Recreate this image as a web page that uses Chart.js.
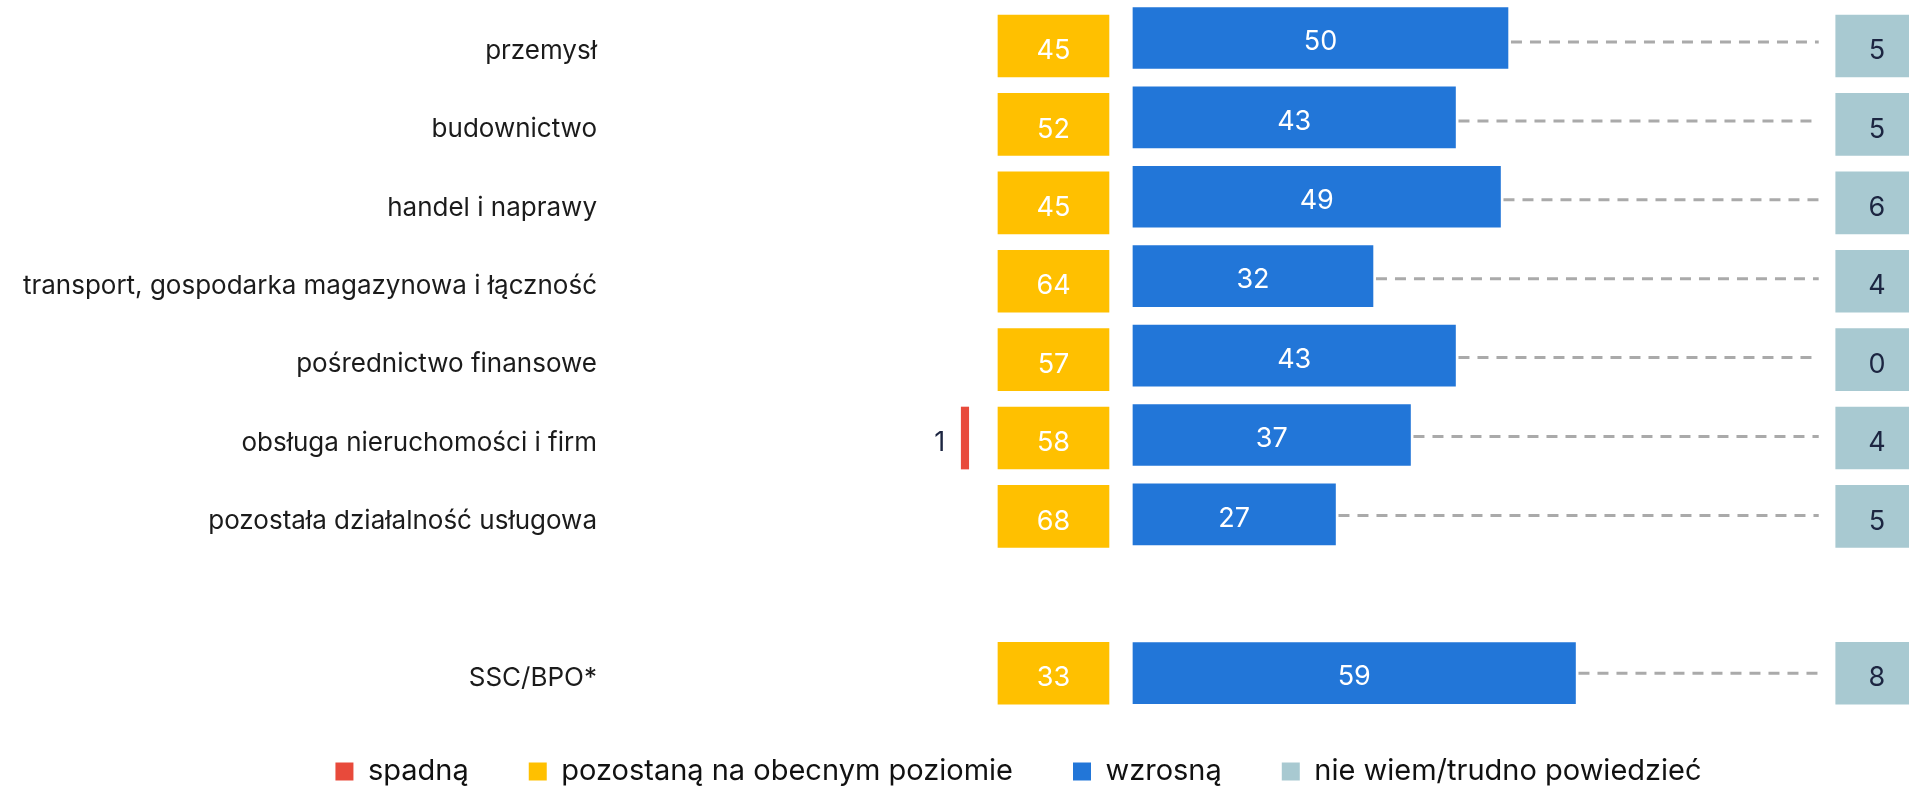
<!DOCTYPE html>
<html lang="pl">
<head>
<meta charset="utf-8">
<title>Zatrudnienie w sektorach</title>
<script src="https://cdn.jsdelivr.net/npm/chart.js@4.4.1/dist/chart.umd.min.js"></script>
<style>
    html, body { margin: 0; padding: 0; background: #fff; }
    #wrap { width: 1909px; height: 787px; }
</style>
</head>
<body>
<div id="wrap"><canvas id="chart"></canvas></div>
<script>
// Data (the empty row is the gap before SSC/BPO)
const categories = [
    'przemysł',
    'budownictwo',
    'handel i naprawy',
    'transport, gospodarka magazynowa i łączność',
    'pośrednictwo finansowe',
    'obsługa nieruchomości i firm',
    'pozostała działalność usługowa',
    '',
    'SSC/BPO*'
];
const seriesNames = ['spadną', 'pozostaną na obecnym poziomie', 'wzrosną', 'nie wiem/trudno powiedzieć'];
const fallValues = [0, 0, 0, 0, 0, 1, 0, null, 0];
const stayValues = [45, 52, 45, 64, 57, 58, 68, null, 33];
const riseValues = [50, 43, 49, 32, 43, 37, 27, null, 59];
const unsureValues = [5, 5, 6, 4, 0, 4, 5, null, 8];

// Layout (x axis units, the blue bars start at 0)
const X_MIN = -69.73, X_MAX = 103.47;
const RED_END = -21.9;
const YELLOW_FROM = -18, YELLOW_TO = -3.2;
const GREY_FROM = 93.7, GREY_TO = 104.7;

const colors = ['#e84a3b', '#ffc000', '#2276d8', '#a8c9d1'];
const fontFamily = "Inter, 'Noto Sans', sans-serif";

// one point per row that has a value; y is the row index
function toPoints(values, xOf, keep) {
    const points = [];
    values.forEach((v, i) => {
        if (v == null || (keep && !keep(v))) return;
        points.push({ y: i, x: xOf(v), value: v });
    });
    return points;
}

const datasets = [
    {
        label: seriesNames[0],
        data: toPoints(fallValues, v => [RED_END - v, RED_END], v => v > 0),
        backgroundColor: colors[0],
        clip: false
    },
    {
        label: seriesNames[1],
        data: toPoints(stayValues, () => [YELLOW_FROM, YELLOW_TO]),
        backgroundColor: colors[1],
        clip: false
    },
    {
        label: seriesNames[2],
        data: toPoints(riseValues, v => v),
        backgroundColor: colors[2],
        yAxisID: 'yb',
        barThickness: 61,
        clip: false
    },
    {
        label: seriesNames[3],
        data: toPoints(unsureValues, () => [GREY_FROM, GREY_TO]),
        backgroundColor: colors[3],
        clip: false
    }
];

// Dashed connectors from the blue bars to the grey cells
const connectors = {
    id: 'connectors',
    beforeDatasetsDraw(chart) {
        const ctx = chart.ctx;
        const blue = chart.getDatasetMeta(2).data;
        const greyByRow = {};
        chart.getDatasetMeta(3).data.forEach((bar, j) => {
            greyByRow[chart.data.datasets[3].data[j].y] = bar;
        });
        const greyStart = chart.scales.x.getPixelForValue(GREY_FROM);
        ctx.save();
        ctx.strokeStyle = '#aaaaaa';
        ctx.lineWidth = 3;
        ctx.setLineDash([11, 8]);
        blue.forEach((bar, j) => {
            const grey = greyByRow[chart.data.datasets[2].data[j].y];
            if (!grey) return;
            const y = (bar.y + grey.y) / 2;
            ctx.beginPath();
            ctx.moveTo(bar.x + 3, y);
            ctx.lineTo(greyStart - 17, y);
            ctx.stroke();
        });
        ctx.restore();
    }
};

// Value labels in and beside the bars
const valueLabels = {
    id: 'valueLabels',
    afterDatasetsDraw(chart) {
        const ctx = chart.ctx;
        ctx.save();
        ctx.font = '27px ' + fontFamily;
        ctx.textBaseline = 'middle';
        chart.data.datasets.forEach((ds, di) => {
            const meta = chart.getDatasetMeta(di);
            meta.data.forEach((bar, j) => {
                const v = ds.data[j].value;
                const left = Math.min(bar.x, bar.base);
                const right = Math.max(bar.x, bar.base);
                const dy = di === 2 ? 4 : 5;
                if (di === 0) {
                    ctx.fillStyle = '#1c2541';
                    ctx.textAlign = 'right';
                    ctx.fillText(String(v), left - 16, bar.y + dy);
                } else {
                    ctx.fillStyle = di === 3 ? '#1c2541' : '#ffffff';
                    ctx.textAlign = 'center';
                    ctx.fillText(String(v), (left + right) / 2, bar.y + dy);
                }
            });
        });
        ctx.restore();
    }
};

// the legend sits a bit right of the page centre
const legendShift = {
    id: 'legendShift',
    afterLayout(chart) {
        if (chart.legend) chart.legend.left = 128;
    }
};

Chart.defaults.font.family = fontFamily;

new Chart(document.getElementById('chart'), {
    type: 'bar',
    data: { datasets: datasets },
    options: {
        indexAxis: 'y',
        responsive: true,
        maintainAspectRatio: false,
        animation: false,
        devicePixelRatio: 1,
        layout: { padding: 0 },
        datasets: {
            bar: {
                grouped: false,
                barThickness: 62,
                borderWidth: 0
            }
        },
        scales: {
            x: {
                type: 'linear',
                display: false,
                min: X_MIN,
                max: X_MAX
            },
            y: {
                type: 'linear',
                position: 'left',
                reverse: true,
                offset: false,
                min: -0.5867,
                max: 8.303,
                grid: { display: false, drawTicks: false },
                border: { display: false },
                afterBuildTicks(axis) {
                    axis.ticks = categories.map((c, i) => ({ value: i }));
                },
                afterFit(axis) {
                    axis.width = 610;
                    axis.paddingTop = 0;
                    axis.paddingBottom = 0;
                },
                ticks: {
                    autoSkip: false,
                    padding: 13,
                    labelOffset: 5,
                    color: '#1b1b1b',
                    font: { size: 26 },
                    callback: value => categories[value] ?? ''
                }
            },
            // the blue bars use a slightly wider row pitch than the boxes
            yb: {
                type: 'linear',
                display: false,
                reverse: true,
                offset: false,
                min: -0.4786,
                max: 8.300
            }
        },
        plugins: {
            legend: {
                position: 'bottom',
                maxHeight: 90,
                labels: {
                    boxWidth: 18,
                    boxHeight: 18,
                    padding: 60,
                    color: '#111111',
                    font: { size: 29 }
                }
            },
            tooltip: { enabled: false }
        }
    },
    plugins: [connectors, valueLabels, legendShift]
});
</script>
</body>
</html>
